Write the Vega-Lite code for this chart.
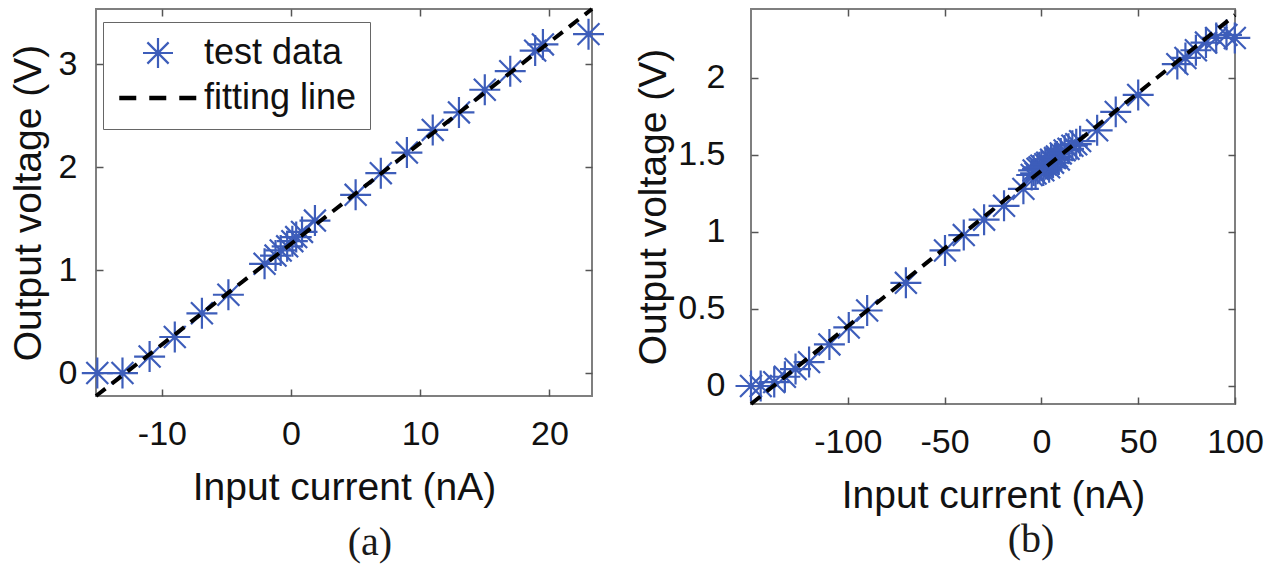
{
  "$schema": "https://vega.github.io/schema/vega-lite/v6.json",
  "background": "white",
  "padding": {"left": 8, "top": 0, "right": 0, "bottom": 0},
  "spacing": 23,
  "config": {
    "view": {"stroke": "#7f7f7f", "strokeWidth": 2},
    "font": "Liberation Sans",
    "axis": {
      "grid": false, "domain": false, "ticks": true, "tickSize": -7, "tickColor": "#555555", "tickWidth": 1.5,
      "labelFont": "Liberation Sans", "labelFontSize": 34, "labelColor": "#111111", "labelFlush": false, "labelOverlap": false,
      "titleFont": "Liberation Sans", "titleFontSize": 39, "titleFontWeight": "normal", "titleColor": "#111111",
      "labelExpr": "toString(datum.value)"
    },
    "legend": {
      "orient": "none", "strokeColor": "#666666", "fillColor": "white", "padding": 13, "cornerRadius": 0,
      "labelFont": "Liberation Sans", "labelFontSize": 36, "labelColor": "#111111", "labelLimit": 0,
      "symbolSize": 900, "symbolOffset": 24, "labelOffset": 28, "rowPadding": 7, "title": null
    }
  },
  "datasets": {
    "a_pts": [
      {"current": -15, "voltage": 0, "series": "test data"},
      {"current": -13.05, "voltage": 0, "series": "test data"},
      {"current": -10.95, "voltage": 0.16, "series": "test data"},
      {"current": -9, "voltage": 0.35, "series": "test data"},
      {"current": -6.9, "voltage": 0.58, "series": "test data"},
      {"current": -4.85, "voltage": 0.76, "series": "test data"},
      {"current": -2.05, "voltage": 1.06, "series": "test data"},
      {"current": -1.2, "voltage": 1.14, "series": "test data"},
      {"current": -0.8, "voltage": 1.19, "series": "test data"},
      {"current": -0.3, "voltage": 1.23, "series": "test data"},
      {"current": 0.1, "voltage": 1.28, "series": "test data"},
      {"current": 0.4, "voltage": 1.32, "series": "test data"},
      {"current": 0.85, "voltage": 1.37, "series": "test data"},
      {"current": 1.85, "voltage": 1.48, "series": "test data"},
      {"current": 5.0, "voltage": 1.73, "series": "test data"},
      {"current": 6.95, "voltage": 1.94, "series": "test data"},
      {"current": 8.97, "voltage": 2.14, "series": "test data"},
      {"current": 10.97, "voltage": 2.36, "series": "test data"},
      {"current": 13.0, "voltage": 2.53, "series": "test data"},
      {"current": 15.0, "voltage": 2.75, "series": "test data"},
      {"current": 16.97, "voltage": 2.93, "series": "test data"},
      {"current": 18.9, "voltage": 3.13, "series": "test data"},
      {"current": 19.5, "voltage": 3.19, "series": "test data"},
      {"current": 23.03, "voltage": 3.29, "series": "test data"}
    ],
    "a_fit": [
      {"current": -15.1, "voltage": -0.223, "series": "fitting line"},
      {"current": 23.3, "voltage": 3.534, "series": "fitting line"}
    ],
    "b_pts": [
      {"current": -150, "voltage": 0, "series": "test data"},
      {"current": -145, "voltage": 0, "series": "test data"},
      {"current": -138, "voltage": 0.025, "series": "test data"},
      {"current": -132.5, "voltage": 0.06, "series": "test data"},
      {"current": -127, "voltage": 0.11, "series": "test data"},
      {"current": -120, "voltage": 0.155, "series": "test data"},
      {"current": -109.5, "voltage": 0.27, "series": "test data"},
      {"current": -99.5, "voltage": 0.38, "series": "test data"},
      {"current": -90, "voltage": 0.49, "series": "test data"},
      {"current": -70, "voltage": 0.67, "series": "test data"},
      {"current": -49.8, "voltage": 0.88, "series": "test data"},
      {"current": -40.1, "voltage": 0.98, "series": "test data"},
      {"current": -29.6, "voltage": 1.08, "series": "test data"},
      {"current": -19.3, "voltage": 1.17, "series": "test data"},
      {"current": -9.3, "voltage": 1.28, "series": "test data"},
      {"current": -5, "voltage": 1.37, "series": "test data"},
      {"current": -4, "voltage": 1.40, "series": "test data"},
      {"current": -3, "voltage": 1.38, "series": "test data"},
      {"current": -2, "voltage": 1.41, "series": "test data"},
      {"current": -1, "voltage": 1.42, "series": "test data"},
      {"current": 0, "voltage": 1.43, "series": "test data"},
      {"current": 1, "voltage": 1.40, "series": "test data"},
      {"current": 2, "voltage": 1.44, "series": "test data"},
      {"current": 3, "voltage": 1.45, "series": "test data"},
      {"current": 4, "voltage": 1.42, "series": "test data"},
      {"current": 5, "voltage": 1.47, "series": "test data"},
      {"current": 6, "voltage": 1.45, "series": "test data"},
      {"current": 7, "voltage": 1.48, "series": "test data"},
      {"current": 8, "voltage": 1.49, "series": "test data"},
      {"current": 9, "voltage": 1.47, "series": "test data"},
      {"current": 10, "voltage": 1.51, "series": "test data"},
      {"current": 12, "voltage": 1.53, "series": "test data"},
      {"current": 14, "voltage": 1.54, "series": "test data"},
      {"current": 16, "voltage": 1.56, "series": "test data"},
      {"current": 18, "voltage": 1.57, "series": "test data"},
      {"current": 20, "voltage": 1.59, "series": "test data"},
      {"current": 28.8, "voltage": 1.66, "series": "test data"},
      {"current": 38.4, "voltage": 1.78, "series": "test data"},
      {"current": 50, "voltage": 1.89, "series": "test data"},
      {"current": 70.2, "voltage": 2.09, "series": "test data"},
      {"current": 74.4, "voltage": 2.13, "series": "test data"},
      {"current": 79.8, "voltage": 2.18, "series": "test data"},
      {"current": 85, "voltage": 2.23, "series": "test data"},
      {"current": 90.3, "voltage": 2.26, "series": "test data"},
      {"current": 95.6, "voltage": 2.28, "series": "test data"},
      {"current": 99.9, "voltage": 2.26, "series": "test data"}
    ],
    "b_fit": [
      {"current": -150, "voltage": -0.117, "series": "fitting line"},
      {"current": 100, "voltage": 2.409, "series": "fitting line"}
    ]
  },
  "hconcat": [
    {
      "width": 496, "height": 387,
      "title": {"text": "(a)", "orient": "bottom", "font": "Liberation Serif", "fontSize": 40, "fontWeight": "normal", "color": "#1a1a1a", "frame": "group", "anchor": "middle", "dx": 26, "offset": 16},
      "layer": [
        {
          "data": {"name": "a_pts"},
          "mark": {"type": "point", "filled": false, "strokeWidth": 2.2, "size": 960, "opacity": 1},
          "encoding": {
            "x": {"field": "current", "type": "quantitative", "scale": {"domain": [-15.1, 23.3], "nice": false, "zero": false},
                  "axis": {"orient": "bottom", "title": "Input current (nA)", "values": [-10, 0, 10, 20], "labelPadding": 28, "titlePadding": 17}},
            "y": {"field": "voltage", "type": "quantitative", "scale": {"domain": [-0.223, 3.534], "nice": false, "zero": false},
                  "axis": {"orient": "left", "title": "Output voltage (V)", "values": [0, 1, 2, 3], "labelPadding": 26, "titlePadding": 10}},
            "color": {"field": "series", "type": "nominal", "scale": {"domain": ["test data", "fitting line"], "range": ["#3d5dba", "#000000"]},
                      "legend": {"legendX": 7, "legendY": 13, "encode": {"symbols": {"update": {
                        "size": {"signal": "datum.value === 'fitting line' ? 6000 : 900"},
                        "strokeWidth": {"signal": "datum.value === 'fitting line' ? 4.5 : 2.2"},
                        "strokeDash": {"signal": "datum.value === 'fitting line' ? [17, 13] : null"}}}}}},
            "shape": {"field": "series", "type": "nominal", "scale": {"domain": ["test data", "fitting line"], "range": ["M-1,0L1,0M0,-1L0,1M-0.7071,-0.7071L0.7071,0.7071M-0.7071,0.7071L0.7071,-0.7071", "stroke"]},
                      "legend": {"legendX": 7, "legendY": 13, "encode": {"symbols": {"update": {
                        "size": {"signal": "datum.value === 'fitting line' ? 6000 : 900"},
                        "strokeWidth": {"signal": "datum.value === 'fitting line' ? 4.5 : 2.2"},
                        "strokeDash": {"signal": "datum.value === 'fitting line' ? [17, 13] : null"}}}}}}
          }
        },
        {
          "data": {"name": "a_fit"},
          "mark": {"type": "line", "strokeDash": [12, 8], "strokeWidth": 4},
          "encoding": {
            "x": {"field": "current", "type": "quantitative", "scale": {"domain": [-15.1, 23.3], "nice": false, "zero": false},
                  "axis": {"orient": "top", "labels": false, "title": null, "values": [-10, 0, 10, 20]}},
            "y": {"field": "voltage", "type": "quantitative", "scale": {"domain": [-0.223, 3.534], "nice": false, "zero": false},
                  "axis": {"orient": "right", "labels": false, "title": null, "values": [0, 1, 2, 3]}},
            "color": {"field": "series", "type": "nominal", "scale": {"domain": ["test data", "fitting line"], "range": ["#3d5dba", "#000000"]},
                      "legend": {"legendX": 7, "legendY": 13, "encode": {"symbols": {"update": {
                        "size": {"signal": "datum.value === 'fitting line' ? 6000 : 900"},
                        "strokeWidth": {"signal": "datum.value === 'fitting line' ? 4.5 : 2.2"},
                        "strokeDash": {"signal": "datum.value === 'fitting line' ? [17, 13] : null"}}}}}}
          }
        }
      ]
    },
    {
      "width": 484, "height": 395,
      "title": {"text": "(b)", "orient": "bottom", "font": "Liberation Serif", "fontSize": 40, "fontWeight": "normal", "color": "#1a1a1a", "frame": "group", "anchor": "middle", "dx": 38, "offset": 5},
      "layer": [
        {
          "data": {"name": "b_pts"},
          "mark": {"type": "point", "filled": false, "strokeWidth": 2.2, "size": 960, "opacity": 1},
          "encoding": {
            "x": {"field": "current", "type": "quantitative", "scale": {"domain": [-150, 100], "nice": false, "zero": false},
                  "axis": {"orient": "bottom", "title": "Input current (nA)", "values": [-100, -50, 0, 50, 100], "labelPadding": 28, "titlePadding": 17}},
            "y": {"field": "voltage", "type": "quantitative", "scale": {"domain": [-0.117, 2.448], "nice": false, "zero": false},
                  "axis": {"orient": "left", "title": "Output voltage (V)", "values": [0, 0.5, 1, 1.5, 2], "labelPadding": 33, "titlePadding": 4}},
            "color": {"field": "series", "type": "nominal", "scale": {"domain": ["test data", "fitting line"], "range": ["#3d5dba", "#000000"]},
                      "legend": {"legendX": 22, "legendY": 25, "encode": {"symbols": {"update": {
                        "size": {"signal": "datum.value === 'fitting line' ? 6000 : 900"},
                        "strokeWidth": {"signal": "datum.value === 'fitting line' ? 4.5 : 2.2"},
                        "strokeDash": {"signal": "datum.value === 'fitting line' ? [17, 13] : null"}}}}}},
            "shape": {"field": "series", "type": "nominal", "scale": {"domain": ["test data", "fitting line"], "range": ["M-1,0L1,0M0,-1L0,1M-0.7071,-0.7071L0.7071,0.7071M-0.7071,0.7071L0.7071,-0.7071", "stroke"]},
                      "legend": {"legendX": 22, "legendY": 25, "encode": {"symbols": {"update": {
                        "size": {"signal": "datum.value === 'fitting line' ? 6000 : 900"},
                        "strokeWidth": {"signal": "datum.value === 'fitting line' ? 4.5 : 2.2"},
                        "strokeDash": {"signal": "datum.value === 'fitting line' ? [17, 13] : null"}}}}}}
          }
        },
        {
          "data": {"name": "b_fit"},
          "mark": {"type": "line", "strokeDash": [12, 8], "strokeWidth": 4},
          "encoding": {
            "x": {"field": "current", "type": "quantitative", "scale": {"domain": [-150, 100], "nice": false, "zero": false},
                  "axis": {"orient": "top", "labels": false, "title": null, "values": [-100, -50, 0, 50, 100]}},
            "y": {"field": "voltage", "type": "quantitative", "scale": {"domain": [-0.117, 2.448], "nice": false, "zero": false},
                  "axis": {"orient": "right", "labels": false, "title": null, "values": [0, 0.5, 1, 1.5, 2]}},
            "color": {"field": "series", "type": "nominal", "scale": {"domain": ["test data", "fitting line"], "range": ["#3d5dba", "#000000"]},
                      "legend": {"legendX": 22, "legendY": 25, "encode": {"symbols": {"update": {
                        "size": {"signal": "datum.value === 'fitting line' ? 6000 : 900"},
                        "strokeWidth": {"signal": "datum.value === 'fitting line' ? 4.5 : 2.2"},
                        "strokeDash": {"signal": "datum.value === 'fitting line' ? [17, 13] : null"}}}}}}
          }
        }
      ]
    }
  ]
}
